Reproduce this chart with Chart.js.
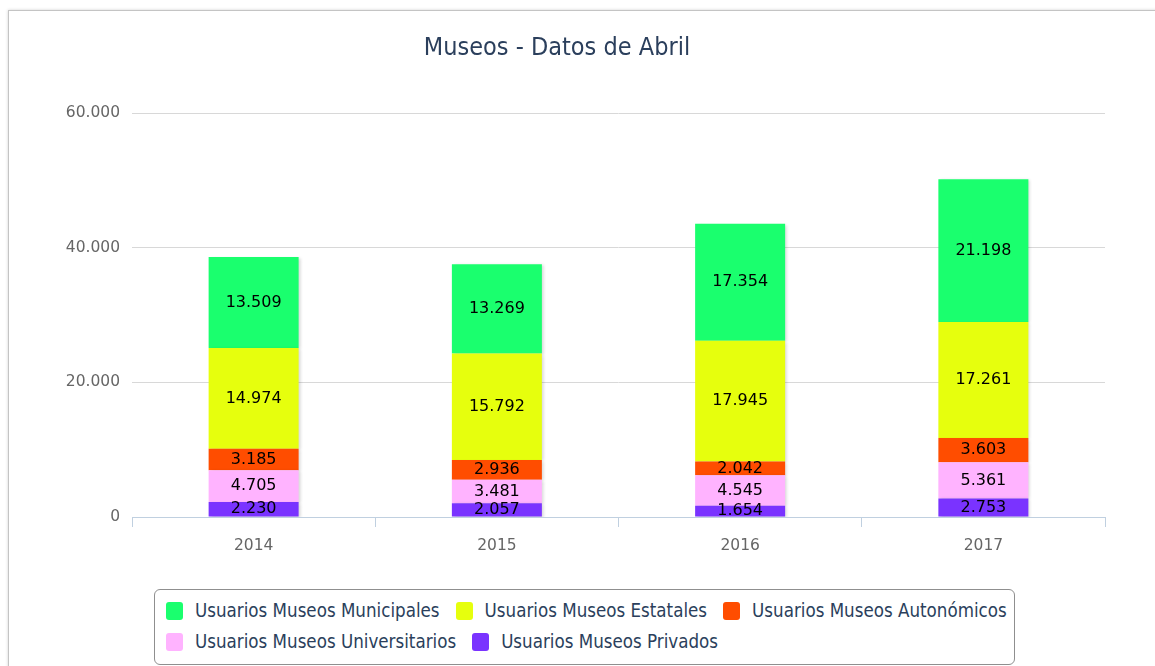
<!DOCTYPE html>
<html>
<head>
<meta charset="utf-8">
<title>Museos - Datos de Abril</title>
<script src="https://cdn.jsdelivr.net/npm/chart.js@4.4.1/dist/chart.umd.min.js"></script>
<style>
  html,body{margin:0;padding:0;background:#fff;width:1155px;height:666px;overflow:hidden;}
  #frame{position:absolute;left:8px;top:10px;width:1200px;height:720px;border:1px solid #c4c4c4;box-shadow:0 0 3px rgba(0,0,0,.18);}
  #wrap{position:absolute;left:9px;top:11px;width:1146px;height:570px;}
  #legend{position:absolute;left:154px;top:589px;width:848px;height:60px;padding:5px 0 9px 11px;
    border:1px solid #8f8f8f;border-radius:6px;display:flex;flex-wrap:wrap;align-content:flex-start;column-gap:16px;
    font-family:"DejaVu Sans Condensed","Liberation Sans Narrow",sans-serif;font-size:18.6px;color:#2b3f5c;}
  .item{display:flex;align-items:center;height:31px;white-space:nowrap;}
  .item i{display:inline-block;width:17px;height:18px;border-radius:3px;margin-right:12px;}
</style>
</head>
<body>
<div id="frame"></div>
<div id="wrap"><canvas id="chart"></canvas></div>
<div id="legend"></div>
<script>
const years = ['2014', '2015', '2016', '2017'];
const seriesNames = ['Usuarios Museos Municipales', 'Usuarios Museos Estatales', 'Usuarios Museos Autonómicos', 'Usuarios Museos Universitarios', 'Usuarios Museos Privados'];
const municipales = [13509, 13269, 17354, 21198];
const estatales = [14974, 15792, 17945, 17261];
const autonomicos = [3185, 2936, 2042, 3603];
const universitarios = [4705, 3481, 4545, 5361];
const privados = [2230, 2057, 1654, 2753];
const yTicks = [0, 20000, 40000, 60000];
const colors = ['#1aff6e', '#e6ff0d', '#ff4d00', '#ffb3ff', '#7a33ff'];

const $ = (id) => document.getElementById(id);
const fmt = (n) => String(n).replace(/\B(?=(\d{3})+(?!\d))/g, '.');

// legend in highcharts order (top of stack first)
$('legend').innerHTML = seriesNames.map((n, i) =>
  `<span class="item"><i style="background:${colors[i]}"></i>${n}</span>`).join('');

// chart.js stacks first dataset at the bottom, so reverse
const values = [municipales, estatales, autonomicos, universitarios, privados];
const datasets = values.map((v, i) => ({
  label: seriesNames[i], data: v, backgroundColor: colors[i], borderWidth: 0
})).reverse();

const barShadow = {
  id: 'barShadow',
  beforeDatasetsDraw(chart){
    const c = chart.ctx;
    c.save();
    c.shadowColor = 'rgba(0,0,0,0.16)';
    c.shadowOffsetX = 2; c.shadowOffsetY = 1; c.shadowBlur = 3;
  },
  afterDatasetsDraw(chart){ chart.ctx.restore(); }
};

const stackLabels = {
  id: 'stackLabels',
  afterDraw(chart){
    const c = chart.ctx;
    c.save();
    c.font = '16px "DejaVu Sans", sans-serif';
    c.fillStyle = '#000';
    c.textAlign = 'center';
    c.textBaseline = 'middle';
    chart.data.datasets.forEach((ds, di) => {
      chart.getDatasetMeta(di).data.forEach((el, j) => {
        c.fillText(fmt(ds.data[j]), el.x, (el.y + el.base) / 2);
      });
    });
    c.restore();
  }
};

new Chart($('chart'), {
  type: 'bar',
  data: { labels: years, datasets },
  options: {
    responsive: true,
    maintainAspectRatio: false,
    animation: false,
    layout: { padding: { left: 0, right: 50, top: 0, bottom: 0 } },
    datasets: { bar: { barPercentage: 0.37, categoryPercentage: 1 } },
    plugins: {
      legend: { display: false },
      tooltip: { enabled: false },
      title: {
        display: true,
        text: 'Museos - Datos de Abril',
        color: '#2b3f5c',
        font: { family: '"DejaVu Sans Condensed","Liberation Sans Narrow",sans-serif', size: 25, weight: 'normal' },
        padding: { top: 22, bottom: 50 }
      }
    },
    scales: {
      x: {
        stacked: true,
        afterFit: (s) => { s.height = 64; },
        border: { color: '#c0d0e0', width: 1 },
        grid: { offset: true, drawOnChartArea: false, drawTicks: true, tickLength: 10, color: '#c0d0e0' },
        ticks: { color: '#666', padding: 10, font: { family: '"DejaVu Sans", sans-serif', size: 15.5 } }
      },
      y: {
        stacked: true,
        min: 0, max: 60000,
        afterFit: (s) => { s.width = 123; },
        afterBuildTicks: (s) => { s.ticks = yTicks.map(v => ({ value: v })); },
        border: { display: false },
        grid: { color: '#d8d8d8', drawTicks: false },
        ticks: { color: '#666', padding: 12, font: { family: '"DejaVu Sans", sans-serif', size: 15.5 }, callback: (v) => fmt(v) }
      }
    }
  },
  plugins: [barShadow, stackLabels]
});
</script>
</body>
</html>
